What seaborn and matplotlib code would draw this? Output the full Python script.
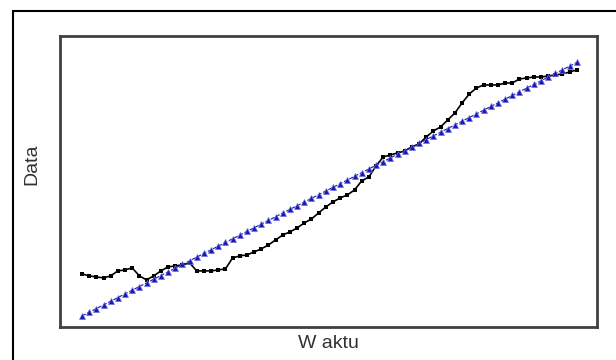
import numpy as np
import pandas as pd
import seaborn as sns
import matplotlib.pyplot as plt
from matplotlib.lines import Line2D

waktu = list(range(1, 71))
data = [53, 51, 50, 49, 51, 56, 57, 59, 51, 47, 51, 56, 60, 61, 62, 64, 56, 56, 56, 57,
        58, 69, 71, 72, 75, 78, 82, 87, 92, 95, 99, 104, 108, 114, 120, 125, 129, 132, 137, 146,
        150, 161, 170, 172, 174, 176, 180, 183, 190, 196, 200, 207, 214, 224, 233, 239, 242, 242, 242, 244,
        244, 248, 249, 250, 250, 251, 252, 253, 255, 257]

df = pd.DataFrame(dict(waktu=waktu, data=data))
# linear trend fits
b, a = np.polyfit(df.waktu, df.data, 1)
df['fit'] = a + b * df.waktu

sns.set_style('white')
plt.rcParams['font.family'] = ['Liberation Sans', 'DejaVu Sans']

fig = plt.figure(figsize=(6.16, 3.6), dpi=100)
ax = fig.add_axes([0.0974, 0.092, 0.8716, 0.808])

sns.lineplot(data=df, x='waktu', y='data', ax=ax, color='black', lw=1.2,
             marker='s', markersize=2.2, markeredgewidth=0)
sns.lineplot(data=df, x='waktu', y='fit', ax=ax, color='#1818b0', lw=0.8, linestyle='--',
             marker='^', markersize=4.5, markerfacecolor='#1818b0',
             markeredgecolor='#7070e0', markeredgewidth=0.5)

ax.set_xlim(-2.07, 72.8)
ax.set_ylim(0, 291)
ax.set_xticks([]); ax.set_yticks([])
for s in ax.spines.values():
    s.set_visible(True); s.set_color('#404040'); s.set_linewidth(2)
ax.set_xlabel('W aktu', fontsize=14, color='#333333')
ax.set_ylabel('Data', fontsize=14, color='#333333')
ax.xaxis.set_label_coords(0.5, -0.027, transform=ax.transAxes)
ax.yaxis.set_label_coords(-0.037, 0.56, transform=ax.transAxes)
ax.xaxis.label.set_va('top')

# outer frame
x0, y0 = 12.5 / 616, 1 - 10.5 / 360
fig.add_artist(Line2D([x0, x0], [0, y0], color='black', lw=1.5, transform=fig.transFigure))
fig.add_artist(Line2D([x0, 1], [y0, y0], color='black', lw=1.5, transform=fig.transFigure))

fig.savefig('out.png', dpi=100)
